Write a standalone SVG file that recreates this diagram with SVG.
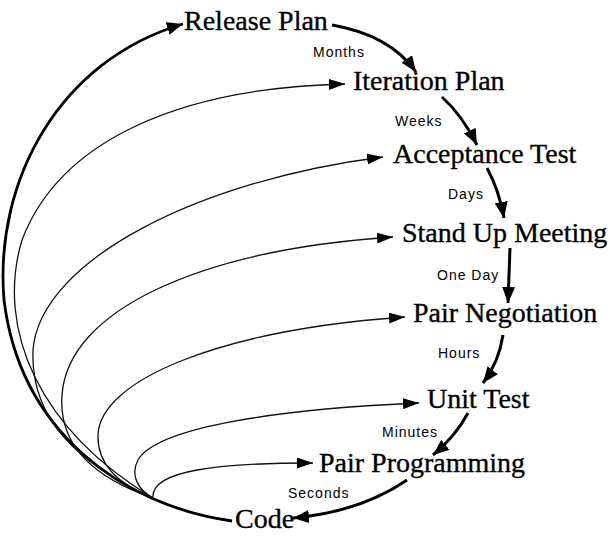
<svg xmlns="http://www.w3.org/2000/svg" width="610" height="539" viewBox="0 0 610 539">
<style>
.node{font-family:"Liberation Serif","Times New Roman",serif;font-size:28px;fill:#000;stroke:#000;stroke-width:0.35}
.lbl{font-family:"Liberation Sans",Arial,sans-serif;font-size:14px;letter-spacing:1px;fill:#000}
.chain{fill:none;stroke:#000;stroke-width:3}
.thin{fill:none;stroke:#111;stroke-width:1.3}
.outer{fill:none;stroke:#000;stroke-width:2.8}
</style>
<defs>
<marker id="ah" markerUnits="userSpaceOnUse" markerWidth="17" markerHeight="13" refX="16" refY="6.5" orient="auto">
<path d="M0,0 L16,6.5 L0,13 z" fill="#000"/>
</marker>
<marker id="ahs" markerUnits="userSpaceOnUse" markerWidth="17" markerHeight="11" refX="16" refY="5.5" orient="auto">
<path d="M0,0 L16,5.5 L0,11 z" fill="#000"/>
</marker>
</defs>
<rect width="610" height="539" fill="#fff"/>
<g id="connectors">
<path class="outer" d="M232,521 C 120,505 20,430 4,300 C -6,180 60,60 183,24" marker-end="url(#ah)"/>
<path class="thin" d="M153,498 C 40,430 -5,330 22,240 C 60,140 180,88 345,84" marker-end="url(#ahs)"/>
<path class="thin" d="M153,498 C 80,465 30,420 33,350 C 40,260 200,180 383,157" marker-end="url(#ahs)"/>
<path class="thin" d="M153,498 C 100,480 58,450 62,395 C 68,310 200,250 393,237" marker-end="url(#ahs)"/>
<path class="thin" d="M153,498 C 120,485 97,465 98,435 C 100,380 220,330 405,317" marker-end="url(#ahs)"/>
<path class="thin" d="M153,498 C 138,490 130,475 138,460 C 155,430 260,410 419,403" marker-end="url(#ahs)"/>
<path class="thin" d="M153,498 C 150,470 220,463 313,463" marker-end="url(#ahs)"/>
<path class="chain" d="M332,25 Q 390,35 416,72" marker-end="url(#ah)"/>
<path class="chain" d="M442,97 Q 462,115 477,145" marker-end="url(#ah)"/>
<path class="chain" d="M487,168 Q 499,190 504,218" marker-end="url(#ah)"/>
<path class="chain" d="M510,248 L 508,303" marker-end="url(#ah)"/>
<path class="chain" d="M503,335 Q 499,362 483,383" marker-end="url(#ah)"/>
<path class="chain" d="M468,413 Q 455,437 433,455" marker-end="url(#ah)"/>
<path class="chain" d="M407,480 Q 360,512 293,518" marker-end="url(#ah)"/>
</g>
<g id="release-plan"><text class="node" x="184" y="30">Release Plan</text></g>
<g id="iteration-plan"><text class="node" x="353" y="90">Iteration Plan</text></g>
<g id="acceptance-test"><text class="node" x="393" y="163">Acceptance Test</text></g>
<g id="stand-up-meeting"><text class="node" x="402" y="242">Stand Up Meeting</text></g>
<g id="pair-negotiation"><text class="node" x="413" y="322">Pair Negotiation</text></g>
<g id="unit-test"><text class="node" x="427" y="408">Unit Test</text></g>
<g id="pair-programming"><text class="node" x="319" y="472">Pair Programming</text></g>
<g id="code"><text class="node" x="235" y="528">Code</text></g>
<g id="labels">
<text class="lbl" x="313" y="57">Months</text>
<text class="lbl" x="395" y="126">Weeks</text>
<text class="lbl" x="448" y="199">Days</text>
<text class="lbl" x="437" y="280">One Day</text>
<text class="lbl" x="438" y="358">Hours</text>
<text class="lbl" x="382" y="437">Minutes</text>
<text class="lbl" x="288" y="498">Seconds</text>
</g>
</svg>
